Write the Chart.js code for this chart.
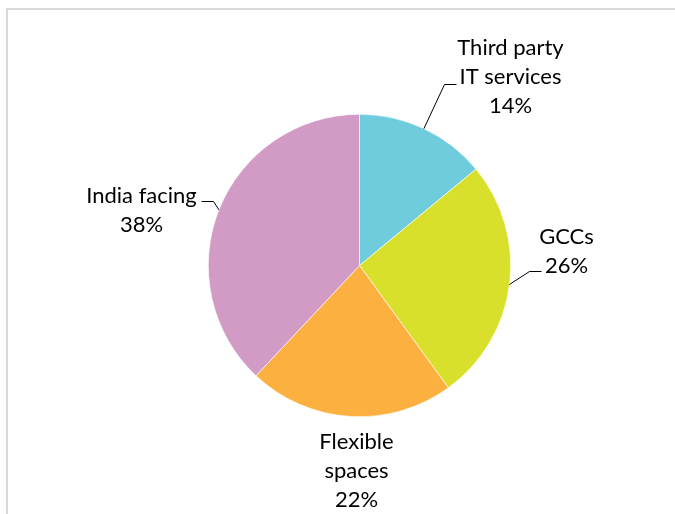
<!DOCTYPE html>
<html>
<head>
<meta charset="utf-8">
<script src="https://cdn.jsdelivr.net/npm/chart.js@4/dist/chart.umd.min.js"></script>
<style>
  html, body { margin: 0; padding: 0; background: #fff; }
  #wrap { position: relative; width: 675px; height: 514px; }
</style>
</head>
<body>
<div id="wrap"><canvas id="pie" width="675" height="514"></canvas></div>
<script>
// data
const categories = ["Third party\nIT services", "GCCs", "Flexible\nspaces", "India facing"];
const shares = [14, 26, 22, 38];
const sliceColors = ["#6ECCDC", "#D9E02B", "#FBB040", "#D29BC6"];

// label placement, offsets from pie centre (px)
const labelPos = [
  { dx: 151, dy: -218, elbow: [85, -181], end: [97, -181] },
  { dx: 207, dy: -29, elbow: [170, 6], end: [182, 6] },
  { dx: -3, dy: 176, elbow: null, end: null },
  { dx: -218, dy: -70, elbow: [-146, -64], end: [-158, -64] }
];

const FONT = "22px Lato, 'Open Sans', sans-serif";
const LINE_H = 29;

const framePlugin = {
  id: "frame",
  beforeDraw(chart) {
    const c = chart.ctx;
    c.save();
    c.strokeStyle = "#d9d9d9";
    c.lineWidth = 2;
    c.beginPath();
    c.moveTo(7, chart.height + 5);
    c.lineTo(7, 9);
    c.lineTo(chart.width + 5, 9);
    c.stroke();
    c.restore();
  }
};

const labelPlugin = {
  id: "pieLabels",
  afterDatasetsDraw(chart) {
    const c = chart.ctx;
    const meta = chart.getDatasetMeta(0);
    c.save();
    c.font = FONT;
    c.fillStyle = "#000";
    c.textAlign = "center";
    c.textBaseline = "middle";
    meta.data.forEach((arc, i) => {
      const p = labelPos[i];
      const cx = arc.x, cy = arc.y;
      const lines = categories[i].split("\n").concat(shares[i] + "%");
      lines.forEach((t, k) => c.fillText(t, cx + p.dx, cy + p.dy + k * LINE_H));
      if (p.elbow) {
        const mid = (arc.startAngle + arc.endAngle) / 2;
        const ex = cx + Math.cos(mid) * arc.outerRadius;
        const ey = cy + Math.sin(mid) * arc.outerRadius;
        c.strokeStyle = "#000";
        c.lineWidth = 1;
        c.beginPath();
        c.moveTo(ex, ey);
        c.lineTo(cx + p.elbow[0], cy + p.elbow[1]);
        c.lineTo(cx + p.end[0], cy + p.end[1]);
        c.stroke();
      }
    });
    c.restore();
  }
};

new Chart(document.getElementById("pie"), {
  type: "pie",
  data: {
    labels: categories,
    datasets: [{
      data: shares,
      backgroundColor: sliceColors,
      borderColor: "#fff",
      borderWidth: 0.6
    }]
  },
  options: {
    responsive: false,
    animation: false,
    layout: { padding: { left: 208, right: 164, top: 114, bottom: 97 } },
    plugins: { legend: { display: false }, tooltip: { enabled: false } }
  },
  plugins: [framePlugin, labelPlugin]
});
</script>
</body>
</html>
